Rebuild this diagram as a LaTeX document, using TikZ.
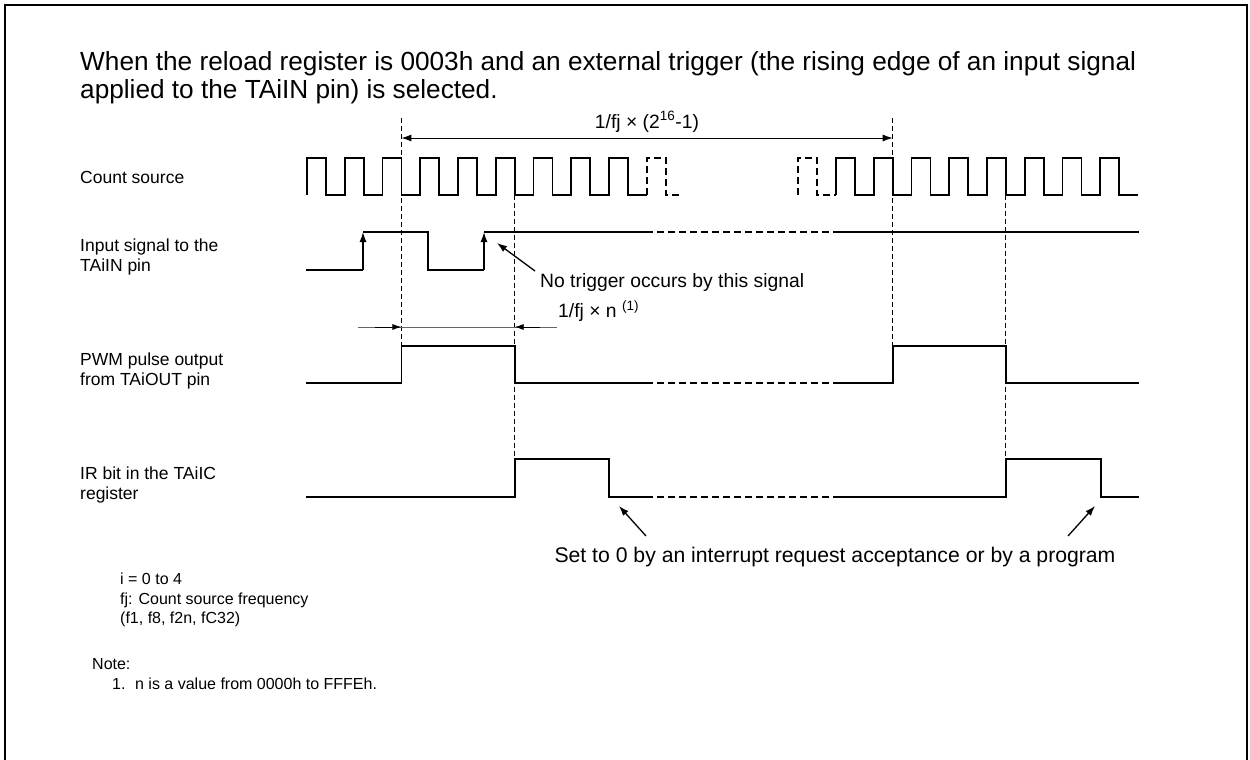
\documentclass[tikz,border=0pt]{standalone}
\usepackage{fontspec}
\setmainfont{Liberation Sans}
\usetikzlibrary{arrows.meta}
\begin{document}
\begin{tikzpicture}[x=1pt,y=-1pt,
  wave/.style={line width=1.7pt,line join=miter},
  wavedash/.style={line width=2pt,dash pattern=on 7pt off 4pt},
  guide/.style={line width=1pt,dash pattern=on 5pt off 3pt},
  lbl/.style={anchor=west,inner sep=0pt,align=left,font=\fontsize{17.5}{19.5}\selectfont},
  ann/.style={anchor=west,inner sep=0pt,align=left,font=\fontsize{19.3}{22}\selectfont},
  foot/.style={anchor=west,inner sep=0pt,align=left,font=\fontsize{16}{19.5}\selectfont},
  ttl/.style={anchor=west,inner sep=0pt,align=left,font=\fontsize{26.2}{28}\selectfont},
  tip/.style={-{Latex[length=10pt,width=7pt]},line width=1.3pt},
  dimtip/.style={-{Latex[length=9pt,width=6pt]},line width=0.8pt}]
\useasboundingbox (0,0) rectangle (1250,760);
\draw[line width=1.6pt] (5,800) -- (5,5) -- (1247,5) -- (1247,800);
% key x positions
\coordinate (A) at (401.4,0);
\coordinate (B) at (514.65,0);
\coordinate (C) at (892.65,0);
\coordinate (D) at (1005.9,0);
% title
\node[ttl] (title) at (80,78) {When the reload register is 0003h and an external trigger (the rising edge of an input signal\\applied to the TAiIN pin) is selected.};
% row labels
\node[lbl] (lcs) at (80,177) {Count source};
\node[lbl] (lin) at (80,257) {Input signal to the\\TAiIN pin};
\node[lbl] (lpwm) at (80,371) {PWM pulse output\\from TAiOUT pin};
\node[lbl] (lir) at (80,485) {IR bit in the TAiIC\\register};
% count source
\draw[wave] (307,195) foreach \k in {0,...,8}{ -- ++(0,-37) -- ++(18.9,0) -- ++(0,37) -- ++(18.85,0)};
\draw[wavedash] (646.75,195) -- ++(0,-37) -- ++(18.9,0) -- ++(0,37) -- ++(16,0);
\draw[wavedash] (798,195) -- ++(0,-37) -- ++(18.9,0) -- ++(0,37) -- (836,195);
\draw[wave] (836,195) foreach \k in {0,...,7}{ -- ++(0,-37) -- ++(18.9,0) -- ++(0,37) -- ++(18.85,0)};
% guide lines
\draw[guide] (A |- 0,118) -- (A |- 0,346);
\draw[guide] (C |- 0,118) -- (C |- 0,346);
\draw[guide] (B |- 0,195) -- (B |- 0,459);
\draw[guide] (D |- 0,195) -- (D |- 0,459);
% period arrow
\draw[{Latex[length=10pt,width=7pt]}-{Latex[length=10pt,width=7pt]},line width=1pt] (A |- 0,138) -- (C |- 0,138);
\node[ann,anchor=center] (per) at (647,122) {1/fj × (2\textsuperscript{16}-1)};
% input signal
\draw[wave] (306,270) -- (363,270);
\draw[wave,tip] (363,270) -- (363,232);
\draw[wave] (363,232) -- (428,232) -- (428,270) -- (484,270);
\draw[wave,tip] (484,270) -- (484,232);
\draw[wave] (484,232) -- (646,232);
\draw[wavedash] (646,232) -- (837,232);
\draw[wave] (837,232) -- (1139,232);
\node[ann] (notrig) at (540,283) {No trigger occurs by this signal};
\coordinate (notip) at (497,243);
\draw[tip] (535,271) -- (notip);
% n dimension
\draw[black!60,line width=0.8pt] (358,327) -- (557,327);
\draw[dimtip] (375,327) -- (A |- 0,327);
\draw[dimtip] (540,327) -- (B |- 0,327);
\node[ann] (nlab) at (558,311) {1/fj × n \textsuperscript{(1)}};
% PWM
\draw[wave] (306,383) -- (A |- 0,383) -- (A |- 0,346) -- (B |- 0,346) -- (B |- 0,383) -- (646,383);
\draw[wavedash] (646,383) -- (837,383);
\draw[wave] (837,383) -- (C |- 0,383) -- (C |- 0,346) -- (D |- 0,346) -- (D |- 0,383) -- (1139,383);
% IR
\draw[wave] (306,497) -- (B |- 0,497) -- (B |- 0,459) -- (609,459) -- (609,497) -- (646,497);
\draw[wavedash] (646,497) -- (837,497);
\draw[wave] (837,497) -- (D |- 0,497) -- (D |- 0,459) -- (1101,459) -- (1101,497) -- (1139,497);
\node[ann,anchor=center,font=\fontsize{21.2}{22}\selectfont] (setzero) at (835,557) {Set to 0 by an interrupt request acceptance or by a program};
\coordinate (sz1) at (619,506);
\coordinate (sz2) at (1095,506);
\draw[tip] (646,536) -- (sz1);
\draw[tip] (1068,536) -- (sz2);
% footnotes
\node[foot] (fn) at (120,600) {i = 0 to 4\\fj: Count source frequency\\(f1, f8, f2n, fC32)};
\node[foot] (note) at (92,664) {Note:};
\node[foot] (note1) at (112,684) {1.\hspace{0.6em}n is a value from 0000h to FFFEh.};
\end{tikzpicture}
\end{document}
